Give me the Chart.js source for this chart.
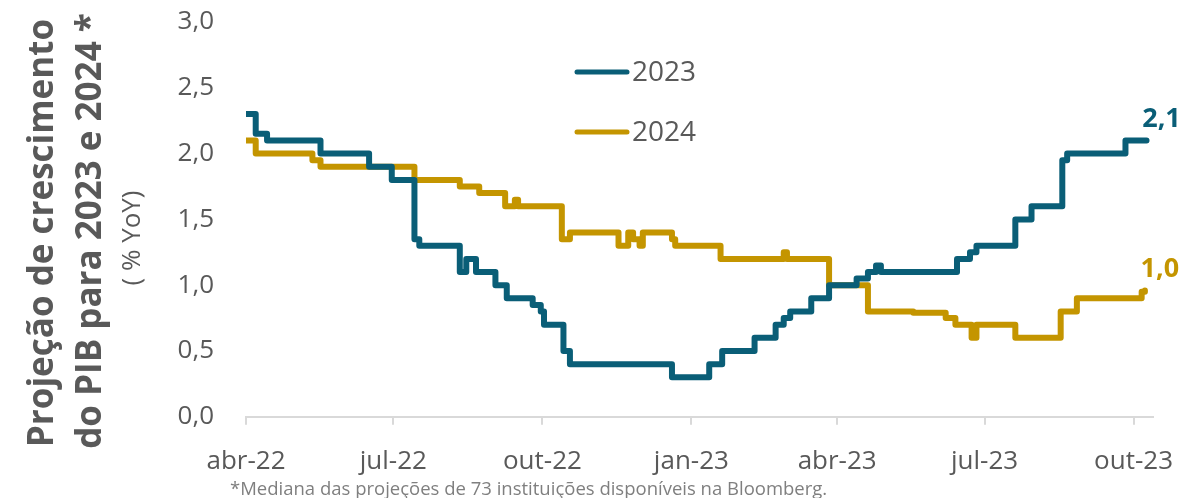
<!DOCTYPE html>
<html><head><meta charset="utf-8">
<script src="https://cdn.jsdelivr.net/npm/chart.js@4.4.1/dist/chart.umd.min.js"></script>
<style>html,body{margin:0;padding:0;background:#fff;}#wrap{width:1183px;height:498px;position:relative;}</style>
</head><body><div id="wrap"><canvas id="c"></canvas></div>
<script>
const startDate = '2022-04-01';
const tickDates = ['2022-04-01','2022-07-01','2022-10-01','2023-01-01','2023-04-01','2023-07-01','2023-10-01'];
const tickLabels = ['abr-22','jul-22','out-22','jan-23','abr-23','jul-23','out-23'];

const dates2023 = ['2022-04-01','2022-04-07','2022-04-14','2022-05-17','2022-06-16','2022-06-30','2022-07-14','2022-07-17','2022-08-11','2022-08-15','2022-08-21','2022-09-02','2022-09-09','2022-09-25','2022-09-30','2022-10-02','2022-10-14','2022-10-18','2022-12-20','2023-01-12','2023-01-20','2023-02-09','2023-02-22','2023-02-27','2023-03-03','2023-03-16','2023-03-27','2023-04-13','2023-04-20','2023-04-25','2023-04-28','2023-06-14','2023-06-22','2023-06-26','2023-07-20','2023-07-30','2023-08-18','2023-08-21','2023-09-26','2023-10-09'];
const values2023 = [2.3,2.15,2.1,2.0,1.9,1.8,1.35,1.3,1.1,1.2,1.1,1.0,0.9,0.85,0.8,0.7,0.5,0.4,0.3,0.4,0.5,0.6,0.7,0.75,0.8,0.9,1.0,1.05,1.1,1.15,1.1,1.2,1.25,1.3,1.5,1.6,1.95,2.0,2.1,2.1];

const dates2024 = ['2022-04-01','2022-04-07','2022-05-12','2022-05-17','2022-07-14','2022-08-11','2022-08-23','2022-09-08','2022-09-14','2022-09-16','2022-10-13','2022-10-18','2022-11-17','2022-11-23','2022-11-26','2022-11-30','2022-12-02','2022-12-20','2022-12-22','2023-01-19','2023-02-27','2023-03-01','2023-03-27','2023-04-20','2023-05-18','2023-06-07','2023-06-13','2023-06-23','2023-06-26','2023-07-20','2023-08-17','2023-08-27','2023-10-06','2023-10-08'];
const values2024 = [2.1,2.0,1.95,1.9,1.8,1.75,1.7,1.6,1.65,1.6,1.35,1.4,1.3,1.4,1.35,1.3,1.4,1.35,1.3,1.2,1.25,1.2,1.0,0.8,0.79,0.75,0.7,0.6,0.7,0.6,0.8,0.9,0.95,0.96];

const seriesNames = ['2023','2024'];
const seriesColors = ['#0A5E77','#C49500'];
const yTitle = ['Projeção de crescimento','do PIB para 2023 e 2024 *'];
const yUnit = '( % YoY)';
const footnote = '*Mediana das projeções de 73 instituições disponíveis na Bloomberg.';

const DAY = 86400000;
const dayIndex = d => Math.round((Date.parse(d) - Date.parse(startDate)) / DAY);
const toPts = (ds, vs) => ds.map((d, i) => ({x: dayIndex(d), y: vs[i]}));
const fmt = v => v.toFixed(1).replace('.', ',');
const FONT = "'Open Sans', sans-serif";
const GREY = '#595959';

const decor = {
  id: 'decor',
  afterDraw(chart) {
    const ctx = chart.ctx;
    ctx.save();
    ctx.fillStyle = GREY;
    ctx.textAlign = 'center';
    ctx.textBaseline = 'alphabetic';
    const rot = (txt, x, y, font) => {
      ctx.save(); ctx.translate(x, y); ctx.rotate(-Math.PI / 2);
      ctx.font = font; ctx.fillText(txt, 0, 0); ctx.restore();
    };
    rot(yTitle[0], 53, 233, 'bold 35px ' + FONT);
    rot(yTitle[1], 101, 231, 'bold 35px ' + FONT);
    rot(yUnit, 140, 238, '26px ' + FONT);
    // legend
    const legY = [72, 132];
    chart.data.datasets.forEach((ds, i) => {
      ctx.strokeStyle = ds.borderColor; ctx.lineWidth = 5; ctx.lineCap = 'round';
      ctx.beginPath(); ctx.moveTo(577, legY[i]); ctx.lineTo(627, legY[i]); ctx.stroke();
      ctx.fillStyle = GREY; ctx.font = '28px ' + FONT; ctx.textAlign = 'left'; ctx.textBaseline = 'middle';
      ctx.fillText(ds.label, 632, legY[i] + 1);
    });
    // end labels
    chart.data.datasets.forEach((ds, i) => {
      const meta = chart.getDatasetMeta(i);
      const last = meta.data[meta.data.length - 1];
      const v = ds.data[ds.data.length - 1].y;
      ctx.fillStyle = ds.borderColor; ctx.font = 'bold 27px ' + FONT;
      ctx.textAlign = 'center'; ctx.textBaseline = 'middle';
      ctx.fillText(fmt(v), last.x + 15, last.y - 21);
    });
    // footnote
    ctx.fillStyle = '#7F7F7F'; ctx.font = '18.5px ' + FONT; ctx.textAlign = 'left'; ctx.textBaseline = 'middle';
    ctx.fillText(footnote, 230, 490);
    ctx.restore();
  }
};

new Chart(document.getElementById('c'), {
  type: 'line',
  data: {
    datasets: [
      {label: seriesNames[0], data: toPts(dates2023, values2023), borderColor: seriesColors[0]},
      {label: seriesNames[1], data: toPts(dates2024, values2024), borderColor: seriesColors[1]}
    ].map(d => Object.assign(d, {stepped: true, borderWidth: 6, pointRadius: 0, fill: false, borderCapStyle: 'round', borderJoinStyle: 'round'}))
  },
  options: {
    responsive: true, maintainAspectRatio: false, animation: false,
    layout: {padding: {left: 176, right: 30, top: 22, bottom: 0}},
    plugins: {legend: {display: false}, tooltip: {enabled: false}},
    scales: {
      x: {
        type: 'linear', min: 0, max: 560,
        afterBuildTicks: ax => { ax.ticks = tickDates.map(d => ({value: dayIndex(d)})); },
        afterFit: s => { s.paddingLeft = 0; s.paddingRight = 0; },
        ticks: {autoSkip: false, maxRotation: 0, padding: 21, color: GREY, font: {family: FONT, size: 26},
          callback: (v, i) => tickLabels[i]},
        grid: {display: true, drawOnChartArea: false, drawTicks: true, tickLength: 8, color: '#D9D9D9', lineWidth: 2},
        border: {display: true, color: '#D9D9D9', width: 2}
      },
      y: {
        min: 0, max: 3,
        afterFit: s => { s.width = 70; s.paddingTop = 0; s.paddingBottom = 0; },
        ticks: {stepSize: 0.5, padding: 32, color: GREY, font: {family: FONT, size: 26}, callback: v => fmt(v)},
        grid: {display: false, drawTicks: false},
        border: {display: false}
      }
    }
  },
  plugins: [decor]
});
</script></body></html>
